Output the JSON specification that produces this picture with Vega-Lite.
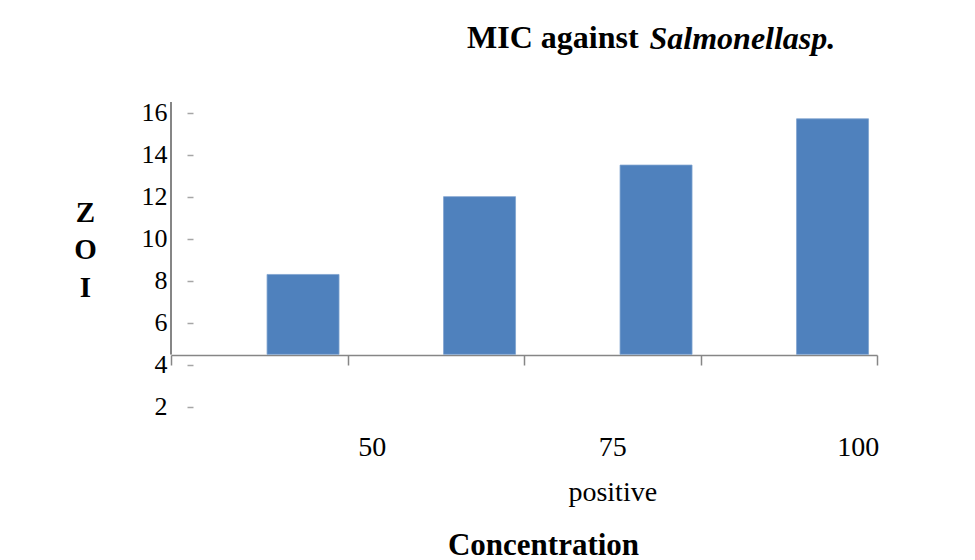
{
  "$schema": "https://vega.github.io/schema/vega-lite/v6.json",
  "autosize": "none",
  "width": 706,
  "height": 347,
  "padding": {"left": 171, "top": 102, "right": 98, "bottom": 111},
  "background": "white",
  "config": {"view": {"stroke": null}, "font": "Liberation Serif"},
  "title": {
    "text": "MIC against",
    "font": "Liberation Serif",
    "fontSize": 32,
    "fontWeight": "bold",
    "color": "black",
    "anchor": "start",
    "frame": "group",
    "dx": 296,
    "baseline": "alphabetic",
    "offset": -58
  },
  "data": {
    "values": [
      {"concentration": "25", "series": "ZOI", "zoi": 8.3},
      {"concentration": "50", "series": "ZOI", "zoi": 12.0},
      {"concentration": "75", "series": "ZOI", "zoi": 13.5},
      {"concentration": "100", "series": "ZOI", "zoi": 15.7}
    ]
  },
  "resolve": {"axis": {"x": "independent"}},
  "layer": [
    {
      "mark": {"type": "bar", "color": "#4F81BD", "stroke": "#7FA3CF", "strokeWidth": 0.8},
      "encoding": {
        "x": {
          "field": "concentration",
          "type": "nominal",
          "sort": ["25", "50", "75", "100"],
          "scale": {"paddingInner": 0, "paddingOuter": 0},
          "axis": {
            "title": "Concentration",
            "titleFont": "Liberation Serif",
            "titleFontSize": 31,
            "titleFontWeight": "bold",
            "titleColor": "black",
            "titleX": 372,
            "titleY": 190,
            "titleAlign": "center",
            "titleBaseline": "middle",
            "offset": -94,
            "domainColor": "#868686",
            "domainWidth": 1.5,
            "tickBand": "extent",
            "tickColor": "#868686",
            "tickWidth": 1.5,
            "tickSize": 10,
            "labelAngle": 0,
            "labelFont": "Liberation Serif",
            "labelFontSize": 28,
            "labelColor": "black",
            "labelPadding": 68,
            "labelLineHeight": 45,
            "labelBaseline": "top",
            "labelOverlap": false,
            "labelBound": false,
            "labelExpr": "datum.value == '25' ? '' : datum.value == '75' ? ['75', 'positive'] : datum.value",
            "labelOffset": {
              "condition": [
                {"test": "datum.value == '50'", "value": -64},
                {"test": "datum.value == '100'", "value": 69}
              ],
              "value": 0
            }
          }
        },
        "xOffset": {
          "field": "series",
          "type": "nominal",
          "scale": {"paddingInner": 0, "paddingOuter": 0.726, "align": 0.919}
        },
        "y": {
          "field": "zoi",
          "type": "quantitative",
          "scale": {"domain": [0, 16.5], "nice": false, "zero": false},
          "axis": {
            "values": [2, 4, 6, 8, 10, 12, 14, 16],
            "offset": -22,
            "domain": false,
            "grid": false,
            "tickColor": "#A6A6A6",
            "tickSize": 6,
            "tickWidth": 1.5,
            "labelPadding": 20,
            "labelFont": "Liberation Serif",
            "labelFontSize": 26,
            "labelColor": "black",
            "title": ["Z", "O", "I"],
            "titleAngle": 0,
            "titleFont": "Liberation Serif",
            "titleFontSize": 29,
            "titleFontWeight": "bold",
            "titleColor": "black",
            "titleLineHeight": 37.5,
            "titleX": -108,
            "titleY": 110,
            "titleAlign": "center",
            "titleBaseline": "middle"
          }
        },
        "y2": {"datum": 4.5}
      }
    },
    {
      "mark": {"type": "rule", "color": "#868686", "strokeWidth": 1.5},
      "encoding": {
        "x": {
          "datum": "25",
          "bandPosition": 0,
          "axis": {
            "orient": "top",
            "labels": false,
            "ticks": false,
            "domain": false,
            "grid": false,
            "title": "Salmonellasp.",
            "titleFont": "Liberation Serif, Times New Roman, serif",
            "titleFontSize": 32,
            "titleFontWeight": "bold",
            "titleFontStyle": "italic",
            "titleColor": "black",
            "titleX": 478,
            "titleY": -54,
            "titleAlign": "left",
            "titleBaseline": "alphabetic"
          }
        },
        "y": {"datum": 4.5},
        "y2": {"datum": 16.5}
      }
    }
  ]
}
